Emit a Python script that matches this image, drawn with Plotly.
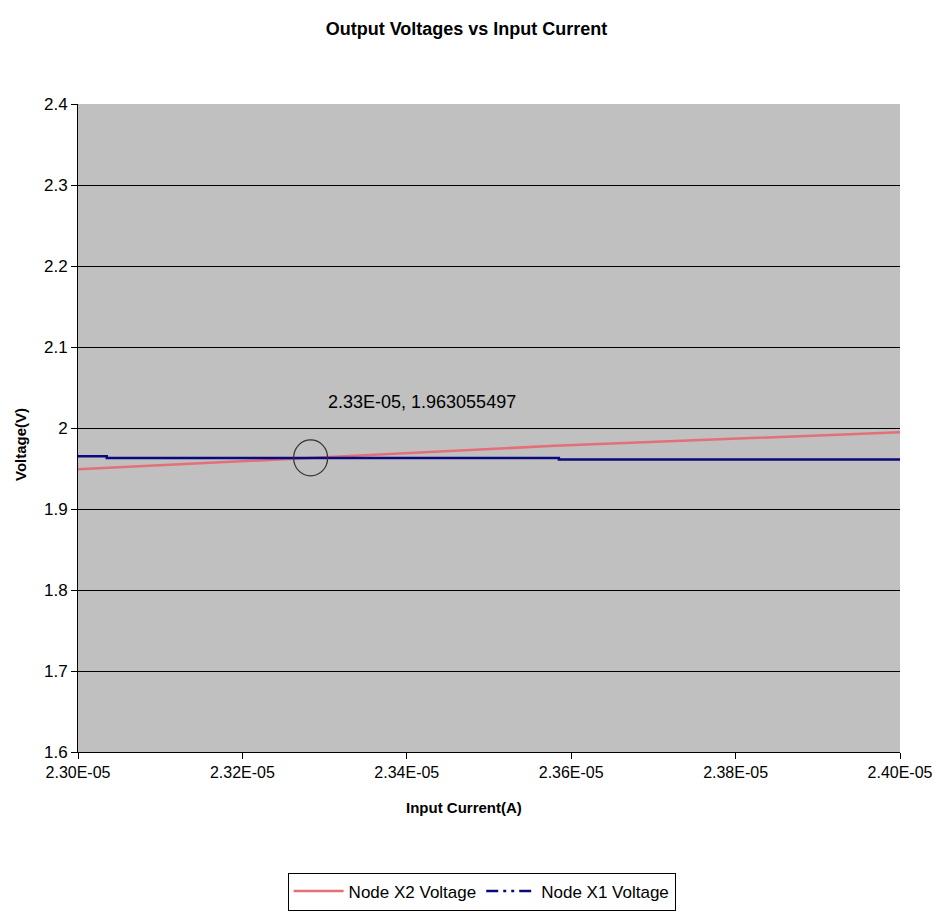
import plotly.graph_objects as go

# Data
x2_current = [2.300e-5, 2.328e-5, 2.358e-5, 2.4005e-5]
x2_voltage = [1.949, 1.963, 1.978, 1.995]

x1_current = [2.300e-5, 2.3035e-5, 2.3035e-5, 2.3585e-5, 2.3585e-5, 2.4005e-5]
x1_voltage = [1.965, 1.965, 1.963, 1.963, 1.961, 1.961]

x_ticks = [2.30e-5, 2.32e-5, 2.34e-5, 2.36e-5, 2.38e-5, 2.40e-5]
x_tick_labels = ["2.30E-05", "2.32E-05", "2.34E-05", "2.36E-05", "2.38E-05", "2.40E-05"]
y_ticks = [1.6, 1.7, 1.8, 1.9, 2.0, 2.1, 2.2, 2.3, 2.4]
y_tick_labels = ["1.6", "1.7", "1.8", "1.9", "2", "2.1", "2.2", "2.3", "2.4"]

point_x = 2.3283e-5
point_y = 1.963055497
point_label = "2.33E-05, 1.963055497"

FONT = "Liberation Sans Narrow, Arial Narrow, Liberation Sans, Arial"

fig = go.Figure()
fig.add_trace(go.Scatter(x=x2_current, y=x2_voltage, mode="lines", name="Node X2 Voltage",
                         line=dict(color="#e36f78", width=2.5)))
fig.add_trace(go.Scatter(x=x1_current, y=x1_voltage, mode="lines", name="Node X1 Voltage",
                         line=dict(color="#0a0a80", width=2.5), showlegend=False))
fig.add_trace(go.Scatter(x=[None], y=[None], mode="lines", name="Node X1 Voltage",
                         line=dict(color="#0a0a80", width=2.5, dash="12px,5px,3px,5px,3px,5px")))

fig.add_shape(type="circle", xref="x", yref="y", xsizemode="pixel", ysizemode="pixel",
              xanchor=point_x, yanchor=point_y, x0=-17, x1=17, y0=-18, y1=18,
              line=dict(color="#333333", width=1.2))
fig.add_annotation(x=point_x, y=point_y, xref="x", yref="y", text=point_label,
                   showarrow=False, xshift=111, yshift=56,
                   font=dict(family=FONT, size=18, color="black"))

# Axis titles (positioned as in the reference, centred on the chart area)
fig.add_annotation(x=0.4696, y=-0.0864, xref="paper", yref="paper", text="<b>Input Current(A)</b>",
                   showarrow=False, xanchor="center", yanchor="middle",
                   font=dict(family=FONT, size=15, color="black"))
fig.add_annotation(x=20, y=-0.025, xref="paper", yref="paper", text="<b>Voltage(V)</b>",
                   showarrow=False, textangle=-90, xanchor="center", yanchor="middle",
                   font=dict(family=FONT, size=15, color="black"))

fig.update_layout(
    width=933, height=915,
    paper_bgcolor="white", plot_bgcolor="#c0c0c0",
    margin=dict(l=78, r=33, t=104, b=163, autoexpand=False),
    title=dict(text="<b>Output Voltages vs Input Current</b>", x=0.5, xanchor="center",
               y=0.969, yanchor="middle", font=dict(family=FONT, size=18, color="black")),
    font=dict(family=FONT, color="black"),
    showlegend=True,
    legend=dict(orientation="h", x=0.491, xanchor="center", y=-0.186, yanchor="top",
                bordercolor="black", borderwidth=1, bgcolor="white", itemwidth=50,
                font=dict(family=FONT, size=17, color="black"), traceorder="normal"),
)
fig.update_xaxes(range=[2.30e-5, 2.40e-5], tickvals=x_ticks, ticktext=x_tick_labels,
                 showgrid=False, zeroline=False, showline=True, linecolor="black", linewidth=1,
                 ticks="outside", ticklen=6, tickcolor="black", automargin=False,
                 ticklabeloverflow="allow",
                 tickfont=dict(family=FONT, size=16, color="black"))
fig.update_yaxes(range=[1.6, 2.4], tickvals=y_ticks, ticktext=y_tick_labels,
                 showgrid=True, gridcolor="black", gridwidth=1, zeroline=False,
                 showline=True, linecolor="black", linewidth=1,
                 ticks="outside", ticklen=6, tickcolor="black", automargin=False,
                 tickfont=dict(family=FONT, size=17, color="black"))

# y-title x in paper coords: pixel 20 -> (20-78)/822
fig.layout.annotations[2].x = (20 - 78) / 822
fig.layout.annotations[2].y = (752 - 445) / 648

fig.write_html("out.html")
